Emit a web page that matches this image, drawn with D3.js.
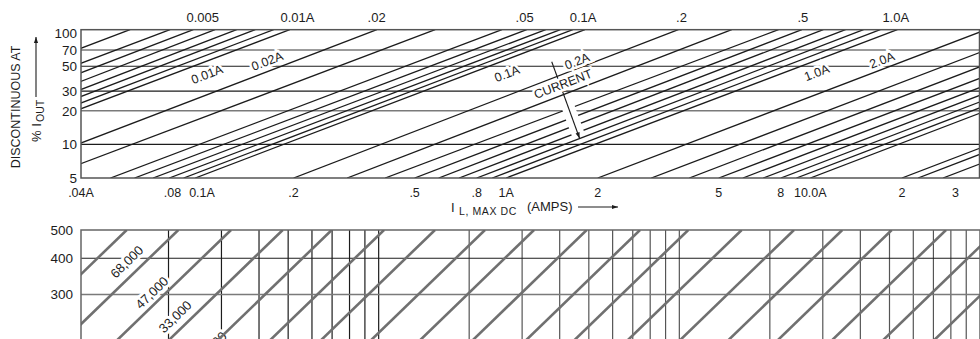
<!DOCTYPE html>
<html>
<head>
<meta charset="utf-8">
<script src="https://cdn.jsdelivr.net/npm/d3@7"></script>
<style>
  html, body { margin: 0; padding: 0; background: #fff; }
  svg { display: block; font-family: "Liberation Sans", Arial, sans-serif; }
</style>
</head>
<body>
<svg id="chart" width="980" height="339"></svg>
<script>
// ---------- upper nomograph: % of I_OUT at which the inductor runs discontinuous ----------
const pctTicks = [5, 10, 20, 30, 50, 70, 100];
const pctGridDark = [10, 30, 50];
const pctGridLight = [20, 70];
const pctFrameTop = 106.4;          // frame edge sits a little above the 100 % mark
const ampDomain = [0.04, 36];

const ampTickValues = [0.04, 0.08, 0.1, 0.2, 0.5, 0.8, 1, 2, 5, 8, 10, 20, 30];
const ampTickLabels = [".04A", ".08", "0.1A", ".2", ".5", ".8", "1A", "2", "5", "8", "10.0A", "2", "3"];

// current scale along the top edge (position expressed on the I_L axis)
const topTickLabels = ["0.005", "0.01A", ".02", ".05", "0.1A", ".2", ".5", "1.0A"];
const topTickAt = [0.1005, 0.206, 0.375, 1.15, 1.79, 3.77, 9.45, 19.1];

// constant-current lines: I_L where each line meets 5 % and where it meets 100 %
const lineAt5 = [0.003, 0.004, 0.005, 0.006, 0.007, 0.008, 0.009, 0.01,
                 0.02, 0.03,
                 0.05, 0.06, 0.069, 0.078, 0.087, 0.095,
                 0.2, 0.3,
                 0.4, 0.5, 0.6, 0.7, 0.8, 0.9, 1.0,
                 2, 3, 4, 5, 6, 7, 8, 9, 10,
                 20, 22.6, 27.3];
const lineAt100 = [0.0546, 0.0739, 0.0882, 0.104, 0.1225, 0.141, 0.162, 0.183,
                   0.354, 0.55,
                   0.912, 1.10, 1.27, 1.42, 1.56, 1.71,
                   3.47, 5.2,
                   7.4, 8.84, 10.4, 12.3, 14.1, 16.0, 18.2,
                   35.6, 53.4, 71, 89, 107, 125, 142, 160, 178,
                   356, 402, 486];

// rotated annotations placed on the chart (I_L, %)
const noteText = ["0.01A", "0.02A", "0.1A", "0.2A", "1.0A", "2.0A", "CURRENT"];
const noteAmp  = [0.1038, 0.1636, 1.005, 1.71, 10.5, 17.2, 1.537];
const notePct  = [42.6, 55.9, 43.2, 55.9, 44.1, 57.1, 34.8];
const arrowAmp = [1.412, 1.744];
const arrowPct = [55.0, 11.3];

// ---------- lower nomograph ----------
const lowDomainX = [1, 1000];
const lowGridX = [2, 3, 4, 5, 6, 7, 8, 9, 10, 20, 30, 40, 50, 60, 70, 80, 90,
                  100, 200, 300, 400, 500, 600, 700, 800, 900];
const lowTicksY = [500, 400, 300];
const lowGridDarkY = [400];
const lowGridLightY = [300];
const lowFrameY = [500, 200];
// capacitance lines: x-position where each line meets the 500 level
const capValues = [68000, 47000, 33000, 22000, 15000, 10000, 6800, 4700, 3300, 2200,
                   1500, 1000, 680, 470, 330, 220, 150, 100, 68];
const capAt500 = [1.452, 2.156, 3.228, 4.796, 6.98, 10.42, 15.39, 22.57, 32.86, 49.19,
                  74.0, 107.1, 161.2, 240.6, 348.3, 508.6, 770.8, 1139, 1684];
const capLabels = ["68,000", "47,000", "33,000", "22,000"];
const capLabelX = [1.452, 1.759, 2.102, 2.75];
const capLabelY = [389, 304.5, 251.8, 197];

// ---------------------------------------------------------------------------
const svg = d3.select("#chart");
const ink = "#1c1c1c";

// upper scales
const x = d3.scaleLog().domain(ampDomain).range([81, 979.5]);
const y = d3.scaleLog().domain([5, 100]).range([178, 32.7]);
const fTop = y(pctFrameTop), fBot = y(5), fL = x(ampDomain[0]), fR = x(ampDomain[1]);

const defs = svg.append("defs");
defs.append("clipPath").attr("id", "clipTop")
  .append("rect").attr("x", fL).attr("y", fTop).attr("width", fR - fL).attr("height", fBot - fTop);
defs.append("marker").attr("id", "head").attr("viewBox", "0 0 10 10")
  .attr("refX", 10).attr("refY", 5).attr("markerWidth", 11).attr("markerHeight", 6)
  .attr("markerUnits", "userSpaceOnUse").attr("orient", "auto")
  .append("path").attr("d", "M0,1.5 L10,5 L0,8.5 Z").attr("fill", ink);

const upper = svg.append("g");

// horizontal grid
upper.selectAll("line.gl").data(pctGridLight).join("line")
  .attr("x1", fL).attr("x2", fR).attr("y1", d => y(d)).attr("y2", d => y(d))
  .attr("stroke", "#7a7a7a").attr("stroke-width", 1.6);
upper.selectAll("line.gd").data(pctGridDark).join("line")
  .attr("x1", fL).attr("x2", fR).attr("y1", d => y(d)).attr("y2", d => y(d))
  .attr("stroke", ink).attr("stroke-width", 1.1);

// constant-current lines, extended to the frame and clipped
const lineData = lineAt5.map((a5, i) => {
  const a100 = lineAt100[i];
  const k = Math.log(pctFrameTop / 5) / Math.log(100 / 5);
  return [[a5, 5], [a5 * Math.pow(a100 / a5, k), pctFrameTop]];
});
const pathGen = d3.line().x(d => x(d[0])).y(d => y(d[1]));
upper.append("g").attr("clip-path", "url(#clipTop)")
  .selectAll("path").data(lineData).join("path")
  .attr("d", pathGen).attr("fill", "none").attr("stroke", ink).attr("stroke-width", 1.3);

// slope of the line family in screen space, used to tilt the notes
const p0 = lineData[20][0], p1 = lineData[20][1];
const angle = Math.atan2(y(p1[1]) - y(p0[1]), x(p1[0]) - x(p0[0])) * 180 / Math.PI;

// CURRENT arrow with a white gap around the lower part of its shaft
const arrowPts = arrowAmp.map((a, i) => [x(a), y(arrowPct[i])]);
const along = t => [arrowPts[0][0] + t * (arrowPts[1][0] - arrowPts[0][0]),
                    arrowPts[0][1] + t * (arrowPts[1][1] - arrowPts[0][1])];
const gapA = along(0.55), gapB = along(0.97);
upper.append("line")
  .attr("x1", gapA[0]).attr("y1", gapA[1]).attr("x2", gapB[0]).attr("y2", gapB[1])
  .attr("stroke", "#fff").attr("stroke-width", 13);
upper.append("line")
  .attr("x1", arrowPts[0][0]).attr("y1", arrowPts[0][1])
  .attr("x2", arrowPts[1][0]).attr("y2", arrowPts[1][1])
  .attr("stroke", ink).attr("stroke-width", 1.1).attr("marker-end", "url(#head)");

// rotated notes
upper.selectAll("text.note").data(noteText).join("text")
  .attr("transform", (d, i) => `translate(${x(noteAmp[i])},${y(notePct[i])}) rotate(${angle})`)
  .attr("text-anchor", "middle").attr("dy", "0.36em")
  .attr("font-size", 12.5).attr("fill", ink)
  .attr("stroke", "#fff").attr("stroke-width", 5).attr("paint-order", "stroke")
  .text(d => d);

// frame
upper.append("rect").attr("x", fL).attr("y", fTop).attr("width", fR - fL).attr("height", fBot - fTop)
  .attr("fill", "none").attr("stroke", "#555").attr("stroke-width", 1.5);

// y tick labels
upper.selectAll("text.yt").data(pctTicks).join("text")
  .attr("x", 77).attr("y", d => y(d)).attr("dy", "0.36em").attr("text-anchor", "end")
  .attr("font-size", 13.5).attr("fill", ink).text(d => d);

// bottom tick labels
upper.selectAll("text.xt").data(ampTickValues).join("text")
  .attr("x", d => x(d)).attr("y", 197).attr("text-anchor", "middle")
  .attr("font-size", 12.5).attr("fill", ink).text((d, i) => ampTickLabels[i]);

// top-edge labels
upper.selectAll("text.tt").data(topTickAt).join("text")
  .attr("x", d => x(d)).attr("y", 22).attr("text-anchor", "middle")
  .attr("font-size", 13).attr("fill", ink).text((d, i) => topTickLabels[i]);

// x-axis title
upper.append("text").attr("x", 451).attr("y", 212).attr("font-size", 13).attr("fill", ink).text("I");
upper.append("text").attr("x", 459).attr("y", 215).attr("font-size", 10.5)
  .attr("letter-spacing", 0.6).attr("fill", ink).text("L, MAX DC");
upper.append("text").attr("x", 527).attr("y", 211).attr("font-size", 13).attr("fill", ink).text("(AMPS)");
upper.append("line").attr("x1", 578).attr("x2", 618).attr("y1", 207).attr("y2", 207)
  .attr("stroke", ink).attr("stroke-width", 1.1).attr("marker-end", "url(#head)");

// y-axis title
upper.append("text").attr("transform", "translate(20,107) rotate(-90)")
  .attr("text-anchor", "middle").attr("font-size", 12.5).attr("fill", ink)
  .text("DISCONTINUOUS AT");
upper.append("text").attr("transform", "translate(41,142) rotate(-90)")
  .attr("font-size", 13).attr("fill", ink).text("% I");
upper.append("text").attr("transform", "translate(44,122) rotate(-90)")
  .attr("font-size", 10.5).attr("fill", ink).text("OUT");
upper.append("line").attr("x1", 36).attr("x2", 36).attr("y1", 97).attr("y2", 37)
  .attr("stroke", ink).attr("stroke-width", 1.1).attr("marker-end", "url(#head)");

// ---------- lower panel ----------
const xl = d3.scaleLog().domain(lowDomainX).range([78, 980]);
const yl = d3.scaleLog().domain([300, 500]).range([294.5, 230]);
const lL = fL, lR = xl(lowDomainX[1]), lT = yl(lowFrameY[0]), lB = yl(lowFrameY[1]);

defs.append("clipPath").attr("id", "clipLow")
  .append("rect").attr("x", lL).attr("y", lT).attr("width", lR - lL).attr("height", lB - lT);

const low = svg.append("g");
low.selectAll("line.vx").data(lowGridX).join("line")
  .attr("x1", d => xl(d)).attr("x2", d => xl(d)).attr("y1", lT).attr("y2", lB)
  .attr("stroke", d => d <= 10 ? ink : "#555").attr("stroke-width", 1.2);
low.selectAll("line.hd").data(lowGridDarkY).join("line")
  .attr("x1", lL).attr("x2", lR).attr("y1", d => yl(d)).attr("y2", d => yl(d))
  .attr("stroke", ink).attr("stroke-width", 1.1);
low.selectAll("line.hl").data(lowGridLightY).join("line")
  .attr("x1", lL).attr("x2", lR).attr("y1", d => yl(d)).attr("y2", d => yl(d))
  .attr("stroke", "#7a7a7a").attr("stroke-width", 1.6);

// capacitance labels with a white halo that opens the grid behind them
const capLine0 = [[capAt500[0], 500], [capAt500[0] * 200 / 500, 200]];
const capAngle = Math.atan2(yl(capLine0[0][1]) - yl(capLine0[1][1]), xl(capLine0[0][0]) - xl(capLine0[1][0])) * 180 / Math.PI;
low.selectAll("text.cap").data(capLabels).join("text")
  .attr("transform", (d, i) => `translate(${xl(capLabelX[i])},${yl(capLabelY[i])}) rotate(${capAngle})`)
  .attr("text-anchor", "middle").attr("dy", "0.36em")
  .attr("font-size", 13).attr("fill", ink)
  .attr("stroke", "#fff").attr("stroke-width", 6).attr("paint-order", "stroke")
  .text(d => d);

// capacitance lines (V proportional to x along each line)
low.append("g").attr("clip-path", "url(#clipLow)")
  .selectAll("path").data(capAt500.map(a => [[a, 500], [a * 200 / 500, 200]])).join("path")
  .attr("d", d3.line().x(d => xl(d[0])).y(d => yl(d[1])))
  .attr("fill", "none").attr("stroke", "#707070").attr("stroke-width", 2.6);

low.append("rect").attr("x", lL).attr("y", lT).attr("width", lR - lL).attr("height", lB - lT)
  .attr("fill", "none").attr("stroke", "#666").attr("stroke-width", 1.5);

low.selectAll("text.ly").data(lowTicksY).join("text")
  .attr("x", 73).attr("y", d => yl(d)).attr("dy", "0.36em").attr("text-anchor", "end")
  .attr("font-size", 13.5).attr("fill", ink).text(d => d);
</script>
</body>
</html>
